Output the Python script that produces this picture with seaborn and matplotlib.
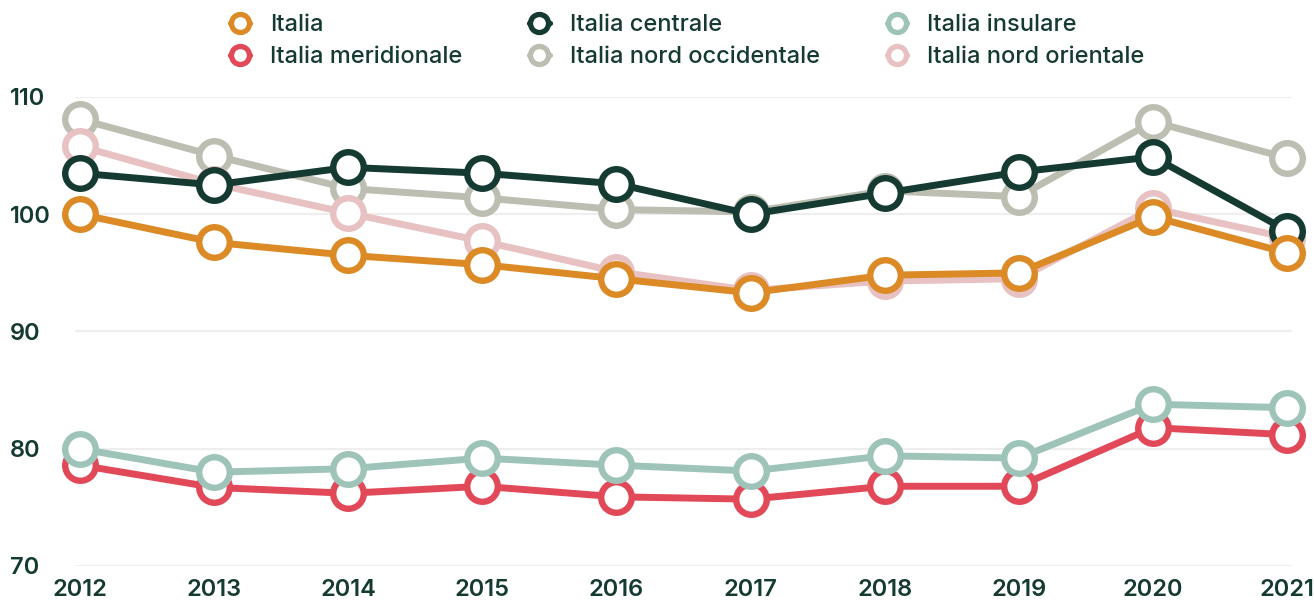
import matplotlib
matplotlib.use("Agg")
import matplotlib.pyplot as plt
import seaborn as sns
import pandas as pd
from matplotlib.lines import Line2D

years = [2012, 2013, 2014, 2015, 2016, 2017, 2018, 2019, 2020, 2021]
italia = [100.0, 97.6, 96.5, 95.7, 94.5, 93.3, 94.8, 95.0, 99.8, 96.7]
centrale = [103.5, 102.5, 104.0, 103.5, 102.6, 100.0, 101.8, 103.6, 104.9, 98.6]
insulare = [80.0, 78.0, 78.3, 79.2, 78.6, 78.1, 79.4, 79.2, 83.8, 83.5]
meridionale = [78.6, 76.7, 76.2, 76.8, 75.9, 75.7, 76.8, 76.8, 81.8, 81.2]
nord_occ = [108.1, 105.0, 102.2, 101.4, 100.4, 100.2, 102.0, 101.5, 107.9, 104.8]
nord_ori = [105.8, 102.6, 100.1, 97.7, 95.1, 93.5, 94.3, 94.5, 100.5, 98.0]

names = ["Italia", "Italia centrale", "Italia insulare",
         "Italia meridionale", "Italia nord occidentale", "Italia nord orientale"]
series = [italia, centrale, insulare, meridionale, nord_occ, nord_ori]
colors = ["#DB8A26", "#143A31", "#9EC4BA", "#E14959", "#BBBEB1", "#E8C1C2"]
zorders = [8, 7, 6, 5, 3, 4]

yticks = [70, 80, 90, 100, 110]

sns.set_theme(style="white")
plt.rcParams["font.family"] = ["Inter", "DejaVu Sans"]

W, H = 1314, 605
fig = plt.figure(figsize=(W / 100, H / 100), dpi=100)
step = (1287 - 80) / 9
left_px, right_px = 75, 1292
top_px, bot_px = 97, 566
ax = fig.add_axes([left_px / W, (H - bot_px) / H, (right_px - left_px) / W, (bot_px - top_px) / H])

for name, vals, col, z in zip(names, series, colors, zorders):
    df = pd.DataFrame({"year": years, "value": vals})
    sns.lineplot(data=df, x="year", y="value", ax=ax, color=col, linewidth=5.0,
                 marker="o", markersize=22, markerfacecolor="white",
                 markeredgecolor=col, markeredgewidth=4.6, zorder=z,
                 clip_on=False, legend=False)

ax.set_xlim(2012 - 5 / step, 2021 + 5 / step)
ax.set_ylim(70, 110)
ax.set_yticks(yticks)
ax.set_xticks(years)
ax.set_xlabel("")
ax.set_ylabel("")
for s in ax.spines.values():
    s.set_visible(False)
ax.grid(axis="y", color="#EEEEEE", linewidth=1.6, zorder=0)
ax.grid(axis="x", visible=False)
ax.tick_params(axis="both", length=0)
ax.set_xticklabels([str(y) for y in years], fontsize=17, fontweight="semibold", color="#143A31")
ax.set_yticklabels([str(t) for t in yticks], fontsize=17, fontweight="semibold", color="#143A31",
                   ha="left")
ax.tick_params(axis="y", pad=47)
ax.tick_params(axis="x", pad=9)

order = [0, 3, 1, 4, 2, 5]
handles = [Line2D([0], [0], color=colors[i], linewidth=3.8, marker="o", markersize=13,
                  markerfacecolor="white", markeredgecolor=colors[i], markeredgewidth=3.8)
           for i in order]
labels = [names[i] for i in order]
leg = fig.legend(handles, labels, ncol=3, loc="upper left",
                 bbox_to_anchor=(230 / W, 1 - 14 / H), frameon=False,
                 fontsize=17, handlelength=0.85, handletextpad=0.85,
                 columnspacing=2.84, labelspacing=0.43, borderpad=0, borderaxespad=0)
for t in leg.get_texts():
    t.set_color("#143A31")
    t.set_fontweight("medium")

fig.savefig("out.png", dpi=100)
